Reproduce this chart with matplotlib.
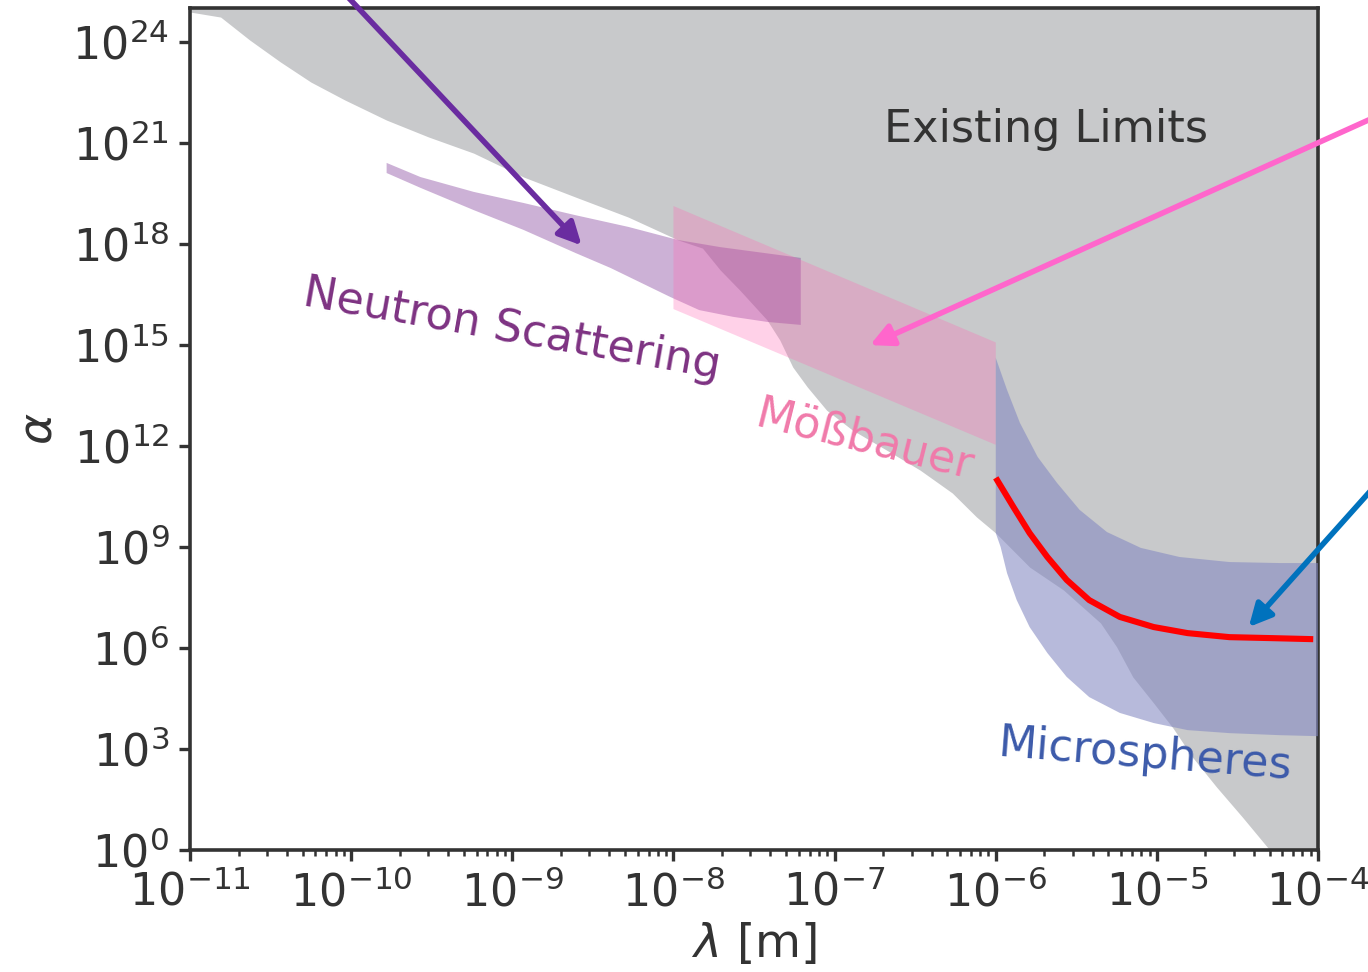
import numpy as np
import matplotlib.pyplot as plt

# existing limits (lower edge of the excluded region), log10 values
lim_x = [-11.0, -10.81, -10.63, -10.44, -10.25, -10.04, -9.78, -9.52, -9.24, -8.93,
         -8.61, -8.28, -7.97, -7.82, -7.71, -7.59, -7.42, -7.34, -7.26, -7.17,
         -7.05, -6.89, -6.68, -6.47, -6.27, -6.12, -6.00, -5.79, -5.58, -5.35,
         -5.25, -5.15, -5.02, -4.90, -4.78, -4.63, -4.47, -4.30, -4.0]
lim_y = [24.88, 24.73, 24.05, 23.40, 22.80, 22.27, 21.67, 21.17, 20.69, 19.98,
         19.39, 18.79, 18.11, 17.87, 17.22, 16.63, 15.74, 15.14, 14.34, 13.75,
         13.06, 12.47, 11.88, 11.28, 10.60, 9.89, 9.41, 8.40, 7.72, 6.74,
         6.03, 5.14, 4.36, 3.62, 2.76, 1.87, 0.98, 0.0, 0.0]

# neutron scattering band
neu_hi_x = [-9.78, -9.57, -9.24, -8.93, -8.61, -8.28, -7.97, -7.71, -7.21]
neu_hi_y = [20.40, 19.98, 19.54, 19.21, 18.85, 18.50, 18.11, 17.90, 17.58]
neu_lo_x = [-9.78, -9.57, -9.24, -8.93, -8.61, -8.39, -8.02, -7.84, -7.63, -7.42, -7.21]
neu_lo_y = [20.10, 19.66, 19.00, 18.41, 17.73, 17.28, 16.42, 16.03, 15.83, 15.68, 15.59]

# Mossbauer band
mos_x = [-8.0, -6.0]
mos_hi = [19.12, 15.07]
mos_lo = [16.06, 12.03]

# microspheres band
mic_hi_x = [-6.0, -5.93, -5.85, -5.74, -5.62, -5.48, -5.31, -5.10, -4.86, -4.55, -4.24, -4.0]
mic_hi_y = [14.61, 13.66, 12.68, 11.67, 10.90, 10.10, 9.44, 8.97, 8.70, 8.55, 8.52, 8.52]
mic_lo_x = [-6.0, -5.97, -5.93, -5.87, -5.79, -5.68, -5.56, -5.42, -5.23, -5.02, -4.81, -4.55, -4.24, -4.0]
mic_lo_y = [9.41, 9.00, 8.22, 7.42, 6.62, 5.85, 5.14, 4.54, 4.07, 3.77, 3.56, 3.47, 3.41, 3.38]

# projected sensitivity (red curve)
red_x = [-6.0, -5.89, -5.79, -5.68, -5.56, -5.42, -5.23, -5.02, -4.81, -4.55, -4.28, -4.03]
red_y = [11.05, 10.18, 9.41, 8.70, 8.02, 7.42, 6.92, 6.62, 6.44, 6.32, 6.29, 6.26]

txt = '#333333'

fig = plt.figure(figsize=(6.84, 4.86), dpi=200)
ax = fig.add_axes([0.1389, 0.1255, 0.8246, 0.8663])
ax.set_xscale('log')
ax.set_yscale('log')

p = lambda a: 10.0 ** np.array(a)


def band(xh, yh, xl, yl, **kw):
    xs = np.concatenate([p(xh), p(xl)[::-1]])
    ys = np.concatenate([p(yh), p(yl)[::-1]])
    ax.fill(xs, ys, lw=0, **kw)


ax.fill_between(p(lim_x), p(lim_y), 1e25, color='#c8c9cb', lw=0, zorder=1)
band(neu_hi_x, neu_hi_y, neu_lo_x, neu_lo_y, color='#7b3294', alpha=0.38, zorder=2)
band(mos_x, mos_hi, mos_x, mos_lo, color='#ff69b4', alpha=0.3, zorder=3)
band(mic_hi_x, mic_hi_y, mic_lo_x, mic_lo_y, color='#8489c2', alpha=0.58, zorder=4)
ax.plot(p(red_x), p(red_y), color='#ff0000', lw=2.2, zorder=5, solid_capstyle='butt')

arrow = dict(arrowstyle='-|>', lw=2.0, mutation_scale=17, shrinkA=0, shrinkB=0)
ax.annotate('', xy=(10**-8.57, 10**17.95), xytext=(10**-10.09, 10**25.68),
            arrowprops=dict(color='#6a2ca0', **arrow), annotation_clip=False, zorder=6)
ax.annotate('', xy=(10**-6.78, 10**14.99), xytext=(10**-3.49, 10**22.1),
            arrowprops=dict(color='#ff66cc', **arrow), annotation_clip=False, zorder=6)
ax.annotate('', xy=(10**-4.43, 10**6.62), xytext=(10**-3.49, 10**11.65),
            arrowprops=dict(color='#0072bd', **arrow), annotation_clip=False, zorder=6)

ax.text(10**-5.69, 10**21.40, 'Existing Limits', color=txt, fontsize=16,
        ha='center', va='center', zorder=7)
ax.text(10**-9.0, 10**15.44, 'Neutron Scattering', color='#7d3282', fontsize=16,
        rotation=-10, ha='center', va='center', zorder=7)
ax.text(10**-6.81, 10**12.17, 'Mößbauer', color='#f07aaa', fontsize=16,
        rotation=-14, ha='center', va='center', zorder=7)
ax.text(10**-5.07, 10**2.82, 'Microspheres', color='#3c5aaa', fontsize=16,
        rotation=-4.5, ha='center', va='center', zorder=7)

ax.set_xlim(1e-11, 1e-4)
ax.set_ylim(1e0, 1e25)
ax.set_yticks([10.0**k for k in range(0, 25, 3)])
ax.yaxis.set_minor_locator(plt.NullLocator())

ax.set_xlabel(r'$\lambda$ [m]', fontsize=17, color=txt, labelpad=2)
ax.set_ylabel(r'$\alpha$', fontsize=17, color=txt, labelpad=4)
ax.tick_params(which='both', direction='out', colors=txt, labelsize=16)
ax.tick_params(which='major', length=4, width=1.2)
ax.tick_params(which='minor', length=2.2, width=0.9)
for s in ax.spines.values():
    s.set_color(txt)
    s.set_linewidth(1.3)

fig.savefig('out.png', dpi=200)
